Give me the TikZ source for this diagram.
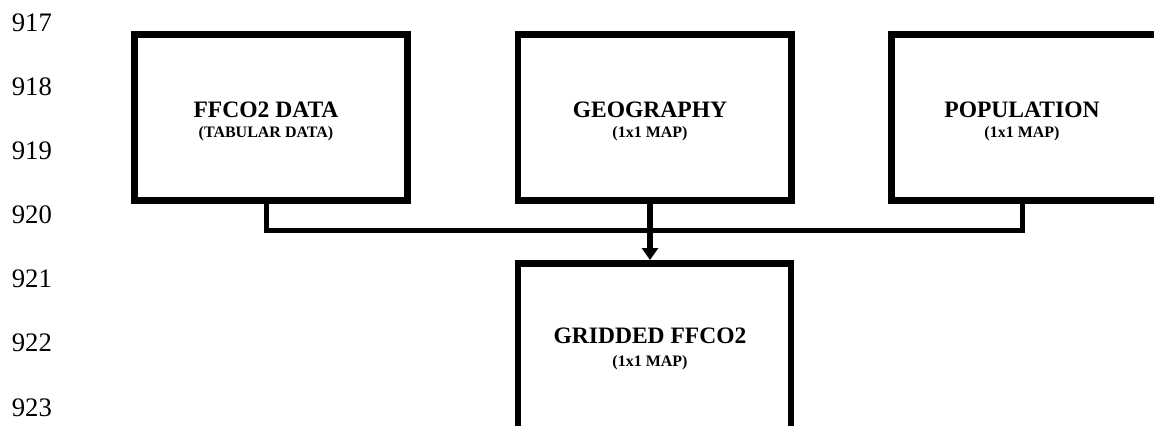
\documentclass[tikz,border=0pt]{standalone}
\usepackage{fontspec}
\setmainfont{Liberation Serif}
\usetikzlibrary{arrows.meta}

\tikzset{
  datbox/.style={draw, line width=0.13cm, minimum width=5.47cm, minimum height=3.33cm, inner sep=0pt},
  boxtitle/.style={anchor=base, inner sep=0pt, font=\fontsize{13.4}{16}\selectfont\bfseries},
  boxsub/.style={anchor=base, inner sep=0pt, font=\fontsize{9.1}{11}\selectfont\bfseries},
  link/.style={line width=0.1cm, line join=miter},
}

\begin{document}
\begin{tikzpicture}[x=0.02cm, y=-0.02cm]
    \useasboundingbox (0,0) rectangle (1154,426);
    \clip (0,0) rectangle (1154,426);
    % line numbers
    \foreach \n [count=\i from 0] in {917,...,923}
        \node[anchor=base west, inner sep=0pt, font=\fontsize{15.2}{18}\selectfont] (ln\n) at (11.5, 31.7+64.05*\i) {\n};
    % boxes
    \node[datbox] (ffco2) at (271,117.5) {};
    \node[datbox] (geo) at (654.7,117.5) {};
    \node[datbox] (pop) at (1028,117.5) {};
    \node[datbox] (grid) at (654.5,346.5) {};
    % box texts
    \node[boxtitle] (ffco2txt) at (266,117) {FFCO2 DATA};
    \node[boxsub] (ffco2sub) at (266,137) {(TABULAR DATA)};
    \node[boxtitle] (geotxt) at (650,117) {GEOGRAPHY};
    \node[boxsub] (geosub) at (650,137) {(1x1 MAP)};
    \node[boxtitle] (poptxt) at (1022,117) {POPULATION};
    \node[boxsub] (popsub) at (1022,137) {(1x1 MAP)};
    \node[boxtitle] (gridtxt) at (650,343.3) {GRIDDED FFCO2};
    \node[boxsub] (gridsub) at (650,366.7) {(1x1 MAP)};
    % connectors
    \coordinate (bar) at (0,230.8);
    \draw[link] (ffco2.south -| ffco2txt) |- (bar -| poptxt) -- (pop.south -| poptxt);
    \draw[link, line width=0.12cm, -{Triangle[width=0.32cm,length=0.24cm]}] (geo.south -| geotxt) -- (grid.north -| geotxt);
\end{tikzpicture}
\end{document}
